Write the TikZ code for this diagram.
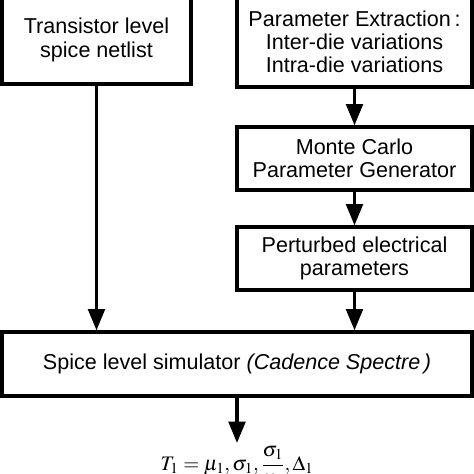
\documentclass[tikz,border=0pt]{standalone}
\usepackage{mathptmx}
\usepackage[no-math]{fontspec}
\setmainfont{Liberation Sans}
\usepackage{amsmath}
\usetikzlibrary{arrows.meta}

\tikzset{
    blk/.style={draw, line width=2.8pt, align=center, inner sep=0pt,
        font=\fontsize{18.4}{19.8}\selectfont},
    flow/.style={-{Triangle[width=0.5cm, length=0.64cm]}, line width=2.8pt}
}

\begin{document}
\begin{tikzpicture}[>=Stealth]
    \useasboundingbox (0,0) rectangle (14.22,14.22);
    \clip (0,0) rectangle (14.22,14.22);

    % input boxes
    \node[blk, minimum width=5.67cm, minimum height=2.64cm] (netlist) at (2.895,13.02) {Transistor level\\spice netlist};
    \node[blk, minimum width=7.05cm, minimum height=2.70cm] (extract) at (10.635,12.96) {Parameter Extraction\,:\\Inter-die variations\\Intra-die variations};
    \node[blk, minimum width=7.05cm, minimum height=1.89cm] (mcgen) at (10.635,9.465) {Monte Carlo\\Parameter Generator};
    \node[blk, minimum width=7.05cm, minimum height=1.89cm] (perturb) at (10.635,6.465) {Perturbed electrical\\parameters};

    % simulator and result
    \node[blk, minimum width=14.1cm, minimum height=1.92cm] (sim) at (7.11,3.30) {Spice level simulator \textit{(Cadence Spectre\,)}};
    \node[anchor=north, inner sep=2.5pt, font=\fontsize{17.6}{20}\selectfont] (result) at (7.11,0.93) {$T_1=\mu_1,\sigma_1,\dfrac{\sigma_1}{\mu_1},\Delta_1$};

    \draw[flow] (extract) -- (mcgen);
    \draw[flow] (mcgen) -- (perturb);
    \draw[flow] (perturb) -- (perturb |- sim.north);
    \draw[flow] (netlist) -- (netlist |- sim.north);
    \draw[flow] (sim) -- (result);
\end{tikzpicture}
\end{document}
